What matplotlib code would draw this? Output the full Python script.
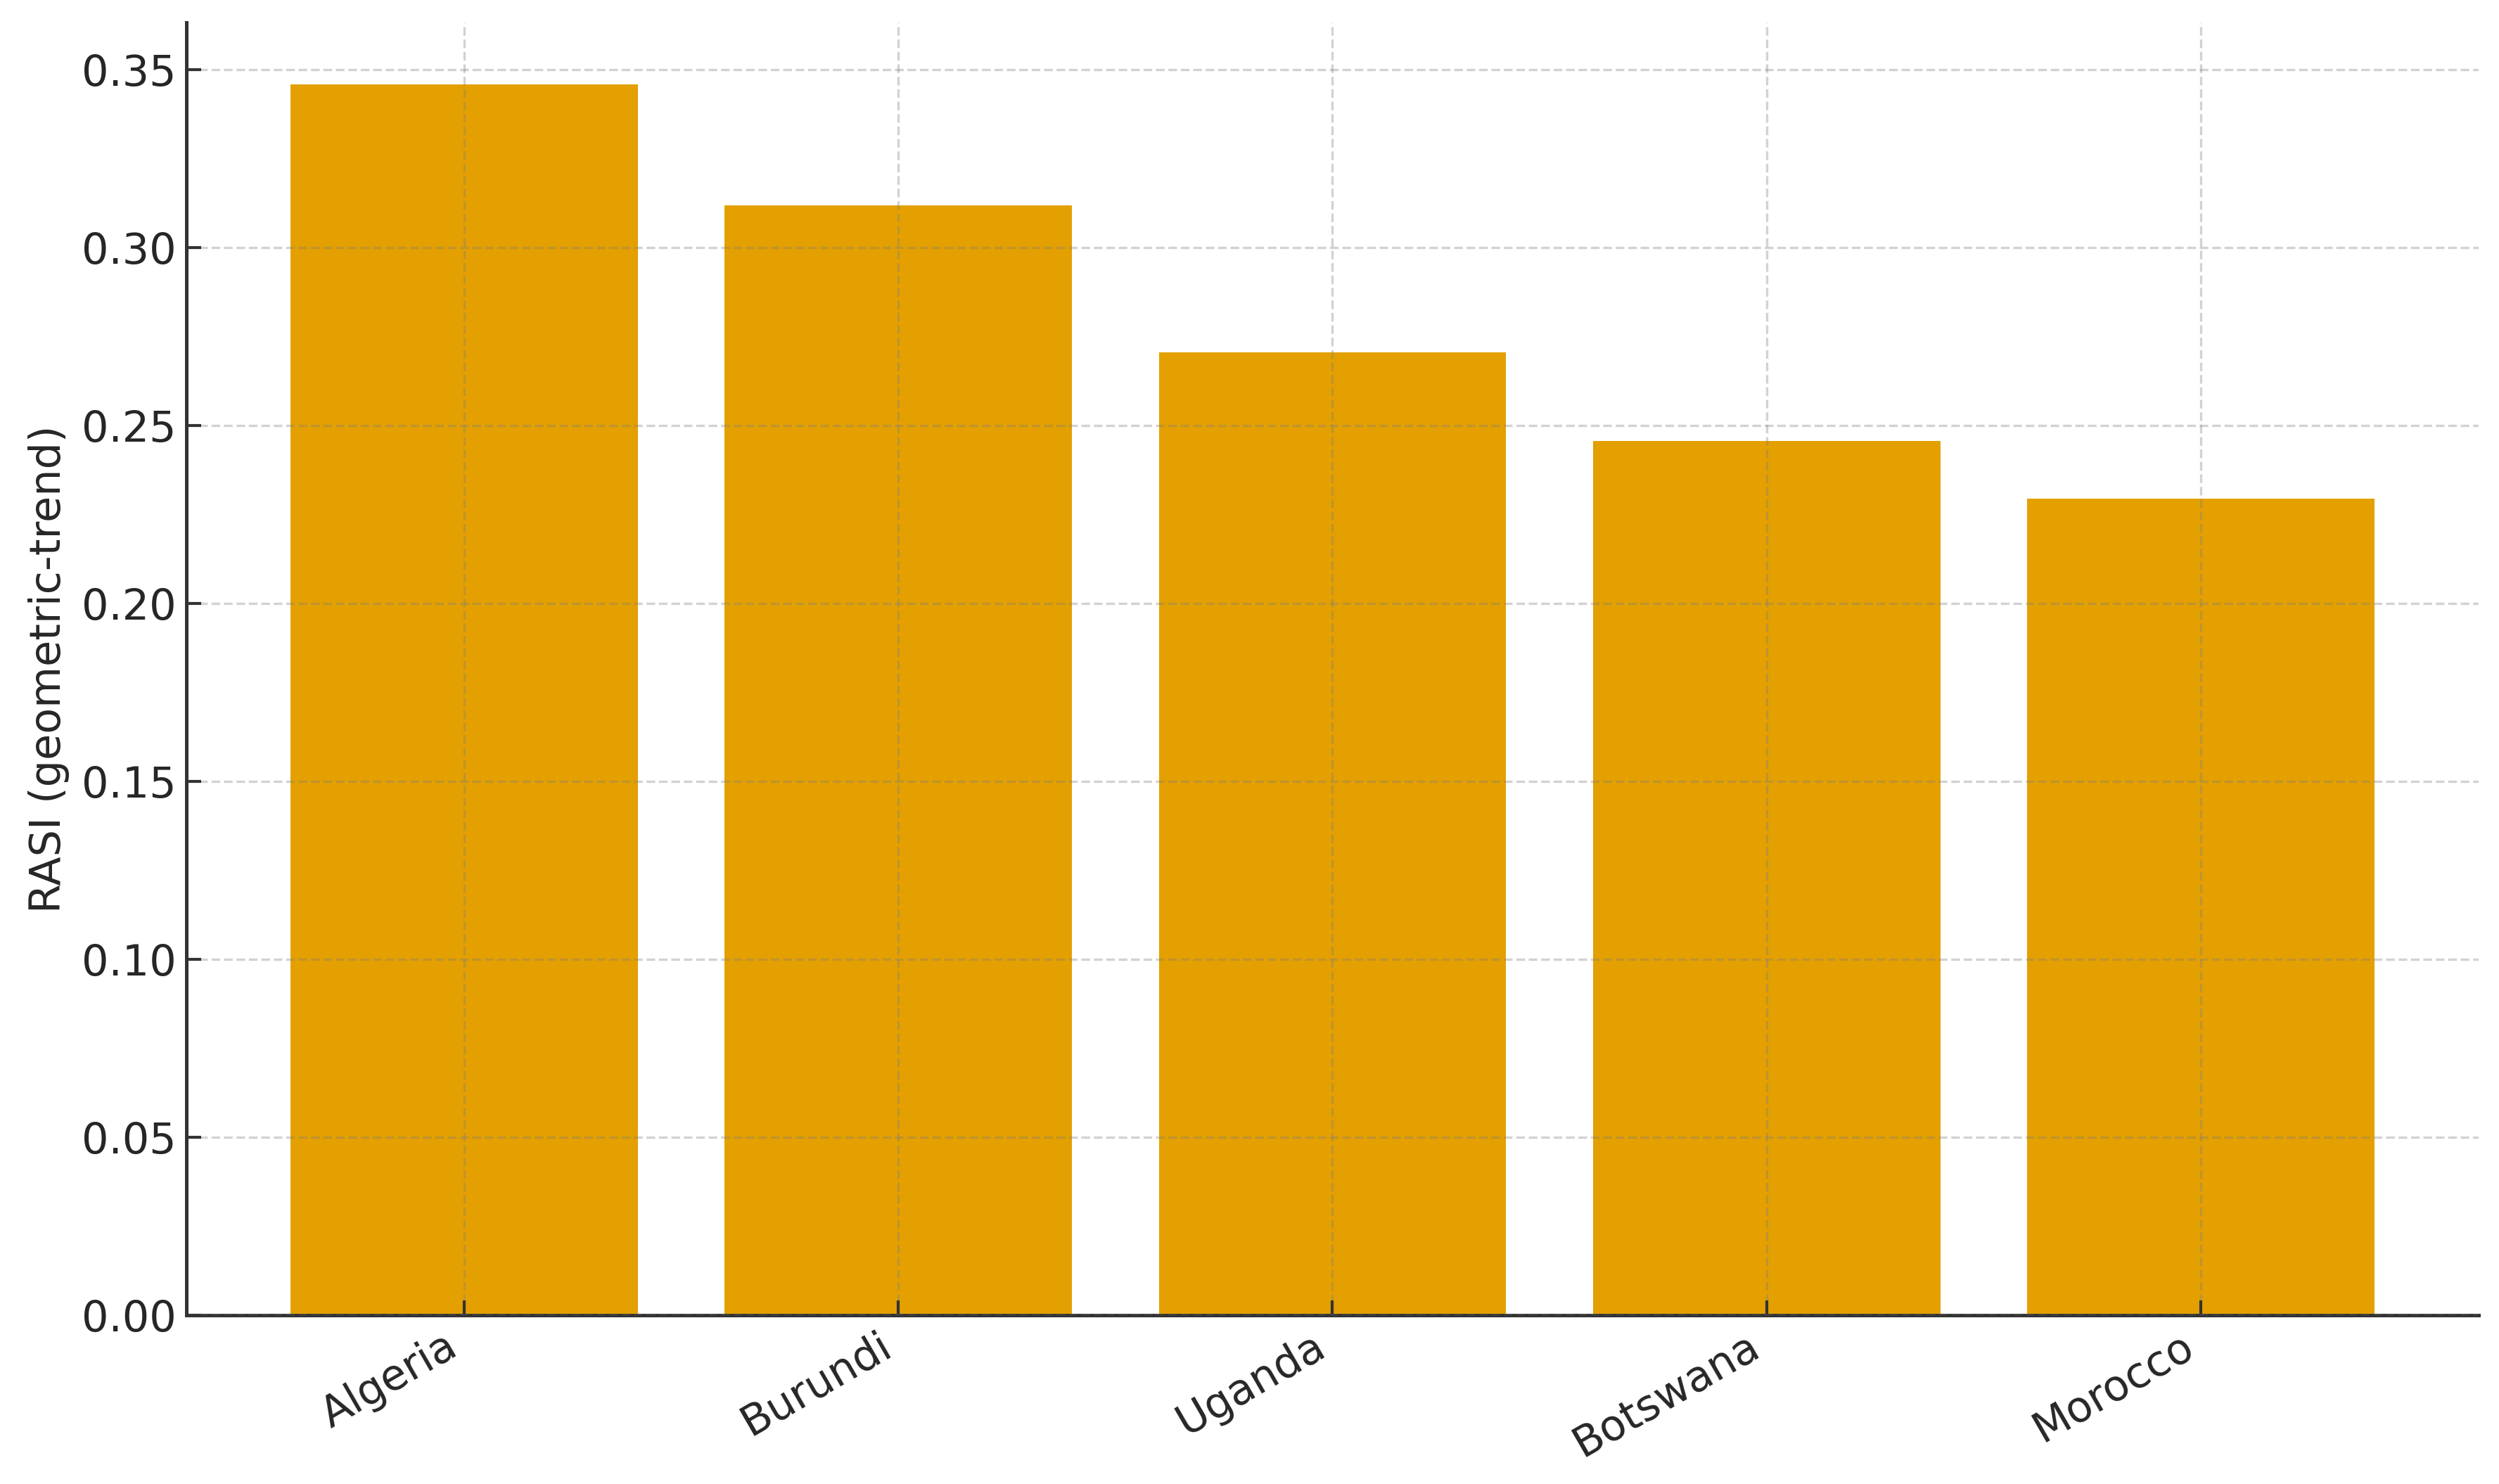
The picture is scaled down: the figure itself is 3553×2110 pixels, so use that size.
import matplotlib
matplotlib.use("Agg")
import matplotlib.pyplot as plt

countries = ["Algeria", "Burundi", "Uganda", "Botswana", "Morocco"]
rasi = [0.346, 0.312, 0.2705, 0.2457, 0.2295]

bar_color = "#E3A000"

plt.rcParams['font.family'] = ['DejaVu Sans']
plt.rcParams['font.size'] = 14.5

fig = plt.figure(figsize=(3553 / 300, 2110 / 300), dpi=300)
ax = fig.add_axes([265 / 3553, 1 - 1870 / 2110, (3524 - 265) / 3553, (1870 - 32) / 2110])

ax.bar(countries, rasi, width=0.8, color=bar_color, zorder=1)
ax.set_ylabel("RASI (geometric-trend)", color="#262626")

ax.grid(True, linestyle="--", color="gray", alpha=0.35, linewidth=0.8, zorder=2)
ax.set_axisbelow(False)

for s in ["top", "right"]:
    ax.spines[s].set_visible(False)
for s in ["left", "bottom"]:
    ax.spines[s].set_color("#333333")
    ax.spines[s].set_linewidth(1.2)

ax.tick_params(direction="in", length=5, width=1.0, color="#333333", labelcolor="#262626")
plt.setp(ax.get_xticklabels(), rotation=30, ha="right")

fig.savefig("out.png", dpi=300)
